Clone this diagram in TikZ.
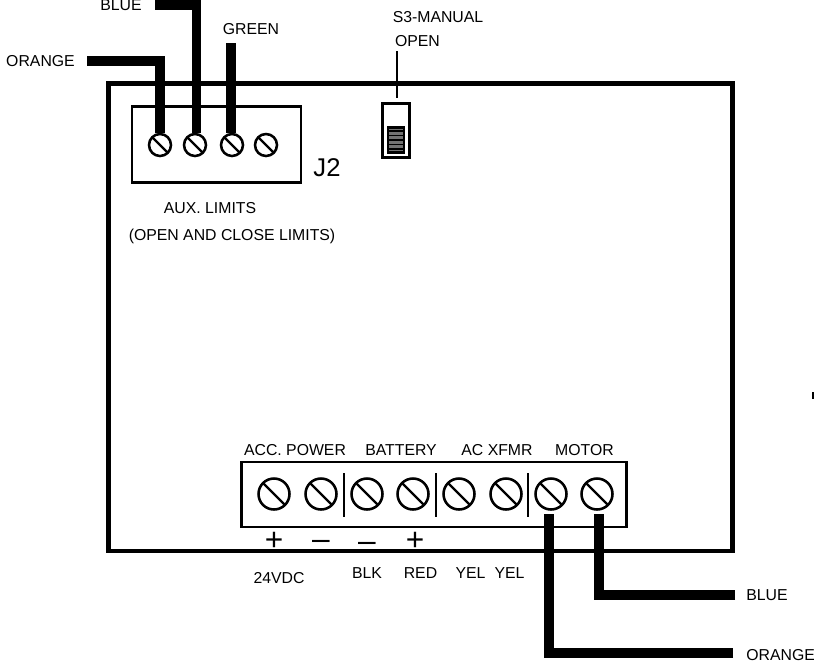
\documentclass[tikz,border=0pt]{standalone}
\usepackage{fontspec}
\setmainfont{Liberation Sans}
\begin{document}
\begin{tikzpicture}[x=0.02cm,y=-0.02cm,
	lbl/.style={inner sep=0pt,font=\fontsize{9}{11}\selectfont},
	sign/.style={inner sep=0pt,font=\fontsize{18}{21}\selectfont},
	panel/.style={draw,line width=1.45pt,inner sep=0pt,outer sep=0pt},
	screwsmall/.style={draw,circle,line width=1.45pt,inner sep=0pt,minimum size=0.44cm,path picture={\draw[line width=1.3pt] (path picture bounding box.north west) -- (path picture bounding box.south east);}},
	screwbig/.style={draw,circle,line width=1.45pt,inner sep=0pt,minimum size=0.62cm,path picture={\draw[line width=1.3pt] (path picture bounding box.north west) -- (path picture bounding box.south east);}},
	wire/.style={line width=5.6pt,line join=miter}]
			\useasboundingbox (0,0) rectangle (814,663);
			\node[draw,line width=2.8pt,inner sep=0pt,outer sep=0pt,minimum width=12.5cm,minimum height=9.36cm] (board) at (420.5,317){};
			\node[panel,minimum width=3.38cm,minimum height=1.53cm] (j2box) at (216.5,144.5){};
			\node[panel,minimum width=7.7cm,minimum height=1.3cm] (termbox) at (434,494.5){};
			\node[panel,minimum width=0.54cm,minimum height=1.08cm] (s3box) at (396,130.5){};
			\node[draw,fill=black!55,line width=1.2pt,inner sep=0pt,outer sep=0pt,minimum width=0.32cm,minimum height=0.5cm] (s3slide) at (396,140){};
			\draw[black,line width=1pt] (388,131) -- (404,131);
			\draw[black,line width=1pt] (388,135.5) -- (404,135.5);
			\draw[black,line width=1pt] (388,140) -- (404,140);
			\draw[black,line width=1pt] (388,144.5) -- (404,144.5);
			\draw[black,line width=1pt] (388,149) -- (404,149);
			\node[screwsmall] (a1) at (160,145){};
			\node[screwsmall] (a2) at (195,145){};
			\node[screwsmall] (a3) at (232,145){};
			\node[screwsmall] (a4) at (266,145){};
			\node[screwbig] (t1) at (274,494){};
			\node[screwbig] (t2) at (321,494){};
			\node[screwbig] (t3) at (367,494){};
			\node[screwbig] (t4) at (413,494){};
			\node[screwbig] (t5) at (459,494){};
			\node[screwbig] (t6) at (506,494){};
			\node[screwbig] (t7) at (551,494){};
			\node[screwbig] (t8) at (597,494){};
			\coordinate (div1a) at (344,473); \coordinate (div1b) at (344,517);
			\coordinate (div2a) at (436,473); \coordinate (div2b) at (436,517);
			\coordinate (div3a) at (528,473); \coordinate (div3b) at (528,517);
			\draw[line width=1.45pt] (div1a) -- (div1b);
			\draw[line width=1.45pt] (div2a) -- (div2b);
			\draw[line width=1.45pt] (div3a) -- (div3b);
			\node[lbl] (lorangetop) at (40.5,61){ORANGE};
			\node[lbl] (lbluetop) at (121,5){BLUE};
			\node[lbl] (lgreen) at (251,29){GREEN};
			\node[lbl] (ls3) at (438,17){S3-MANUAL};
			\node[lbl] (lopen) at (417.5,41){OPEN};
			\node[inner sep=0pt,font=\fontsize{14.6}{17}\selectfont] (lj2) at (327,168){J2};
			\node[lbl] (laux) at (210,208){AUX. LIMITS};
			\node[lbl] (lauxsub) at (232,236){(OPEN AND CLOSE LIMITS)};
			\node[lbl] (lacc) at (295,450){ACC. POWER};
			\node[lbl] (lbatt) at (401,450){BATTERY};
			\node[lbl] (lac) at (497,450){AC XFMR};
			\node[lbl] (lmotor) at (584.5,450){MOTOR};
			\node[sign] (s1) at (274,541.5){+};
			\node[sign] (s2) at (321,545){--};
			\node[sign] (s3) at (367,546.5){--};
			\node[sign] (s4) at (415,541.5){+};
			\node[lbl] (l24) at (279,578){24VDC};
			\node[lbl] (lblk) at (367,573){BLK};
			\node[lbl] (lred) at (420.5,573){RED};
			\node[lbl] (lyel1) at (470.5,573){YEL};
			\node[lbl] (lyel2) at (509.5,573){YEL};
			\node[lbl,anchor=west] (lblue) at (746,595){BLUE};
			\node[lbl,anchor=west] (lorange) at (746,655){ORANGE};
			\coordinate (orangetop) at (87,61);
			\coordinate (bluetop) at (155,5);
			\coordinate (greentop) at (231,43);
			\coordinate (blueend) at (735,595);
			\coordinate (orangeend) at (733,653);
			\coordinate (s3top) at (397,51);
			\coordinate (s3end) at (397,98);
			\draw[wire] (orangetop) -| (a1.north);
			\draw[wire] (bluetop) -| ([xshift=0.03cm]a2.north);
			\draw[wire] (greentop) -- ([xshift=-0.02cm]a3.north);
			\draw[wire] (blueend) -| (599,514);
			\draw[wire] (orangeend) -| (549,514);
			\draw[line width=1.2pt] (s3top) -- (s3end);
			\draw[line width=0.7pt] (813,392) -- (813,399);
		\end{tikzpicture}
\end{document}
